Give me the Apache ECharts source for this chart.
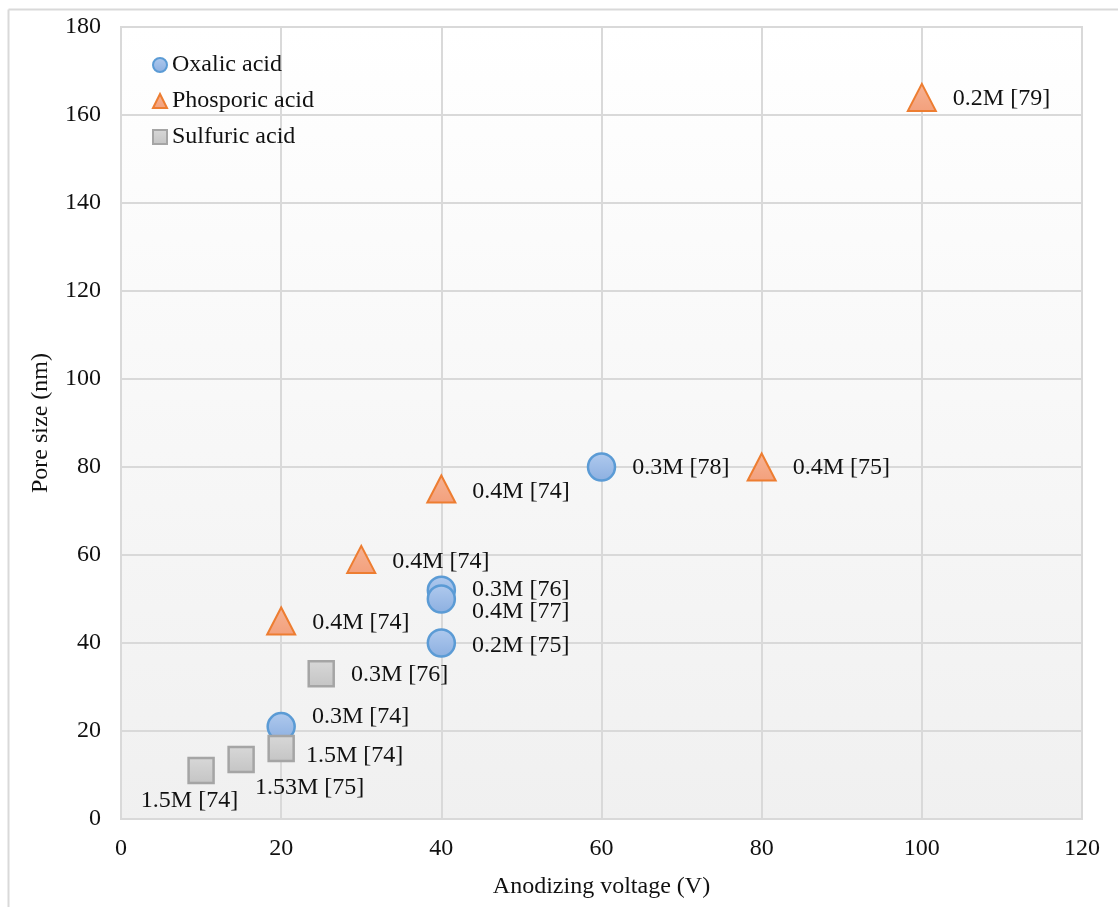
<!DOCTYPE html>
<html>
<head>
<meta charset="utf-8">
<script src="https://cdn.jsdelivr.net/npm/echarts@6/dist/echarts.min.js"></script>
<style>html,body{margin:0;padding:0;background:#fff}#c{width:1118px;height:907px}</style>
</head>
<body>
<div id="c"></div>
<script>
// ---- data ----
const oxalicV = [20, 40, 40, 40, 60];
const oxalicP = [21, 52, 50, 40, 80];
const oxalicL = ['0.3M [74]', '0.3M [76]', '0.4M [77]', '0.2M [75]', '0.3M [78]'];

const phosV = [20, 30, 40, 80, 100];
const phosP = [45, 59, 75, 80, 164];
const phosL = ['0.4M [74]', '0.4M [74]', '0.4M [74]', '0.4M [75]', '0.2M [79]'];

const sulfV = [10, 15, 20, 25];
const sulfP = [11, 13.5, 16, 33];
const sulfL = ['1.5M [74]', '1.53M [75]', '1.5M [74]', '0.3M [76]'];

const seriesNames = ['Oxalic acid', 'Phosporic acid', 'Sulfuric acid'];
const xTicks = [0, 20, 40, 60, 80, 100, 120];
const yTicks = [0, 20, 40, 60, 80, 100, 120, 140, 160, 180];

// ---- label placement (style, not data) ----
const oxalicOff = [[0, -10], [0, 0], [0, 13], [0, 3], [0, 1]];
const phosOff = [[0, 2], [0, 2], [0, 3], [0, 1], [0, 1]];
const sulfOff = [[-90, 30], [-16, 28], [-5, 7], [0, 1]];

const FONT = '"Liberation Serif", "DejaVu Serif", serif';
const FS = 24;

function build(xs, ys, labels, offs) {
  return xs.map((x, i) => ({
    value: [x, ys[i]],
    label: { offset: offs[i] }
  }));
}

function grad(top, bottom) {
  return new echarts.graphic.LinearGradient(0, 0, 0, 1, [
    { offset: 0, color: top }, { offset: 1, color: bottom }
  ]);
}

const labelBase = (labels) => ({
  show: true,
  position: 'right',
  distance: 16,
  color: '#111111',
  fontFamily: FONT,
  fontSize: FS,
  formatter: p => labels[p.dataIndex]
});

const chart = echarts.init(document.getElementById('c'), null, { renderer: 'canvas' });
chart.setOption({
  animation: false,
  backgroundColor: '#ffffff',
  graphic: [
    { type: 'line', shape: { x1: 8.5, y1: 9.5, x2: 1118, y2: 9.5 }, style: { stroke: '#d9d9d9', lineWidth: 2 }, silent: true },
    { type: 'line', shape: { x1: 8.5, y1: 9.5, x2: 8.5, y2: 907 }, style: { stroke: '#d9d9d9', lineWidth: 2 }, silent: true }
  ],
  grid: {
    left: 121, right: 36, top: 27, bottom: 88,
    show: true,
    borderColor: '#d9d9d9',
    borderWidth: 2,
    backgroundColor: grad('#ffffff', '#f0f0f0')
  },
  legend: {
    orient: 'vertical',
    left: 147, top: 48,
    itemWidth: 14, itemHeight: 14,
    itemGap: 12,
    textStyle: { fontFamily: FONT, fontSize: FS, color: '#111111' },
    data: [
      { name: seriesNames[0], icon: 'circle' },
      { name: seriesNames[1], icon: 'triangle' },
      { name: seriesNames[2], icon: 'rect' }
    ]
  },
  xAxis: {
    type: 'value', min: 0, max: 120, interval: 20,
    name: 'Anodizing voltage (V)', nameLocation: 'middle', nameGap: 56,
    nameTextStyle: { fontFamily: FONT, fontSize: FS, color: '#111111' },
    axisLine: { show: false }, axisTick: { show: false },
    axisLabel: { fontFamily: FONT, fontSize: FS, color: '#111111', margin: 18,
      formatter: v => xTicks.includes(v) ? String(v) : '' },
    splitLine: { show: true, lineStyle: { color: '#d9d9d9', width: 2 } }
  },
  yAxis: {
    type: 'value', min: 0, max: 180, interval: 20,
    name: 'Pore size (nm)', nameLocation: 'middle', nameGap: 68, nameRotate: 90,
    nameTextStyle: { fontFamily: FONT, fontSize: FS, color: '#111111' },
    axisLine: { show: false }, axisTick: { show: false },
    axisLabel: { fontFamily: FONT, fontSize: FS, color: '#111111', margin: 20,
      formatter: v => yTicks.includes(v) ? String(v) : '' },
    splitLine: { show: true, lineStyle: { color: '#d9d9d9', width: 2 } }
  },
  series: [
    {
      name: seriesNames[0], type: 'scatter', symbol: 'circle', symbolSize: 27,
      itemStyle: { color: grad('#b0caee', '#8cafe0'), borderColor: '#5b9bd5', borderWidth: 2.5, opacity: 1 },
      label: labelBase(oxalicL),
      data: build(oxalicV, oxalicP, oxalicL, oxalicOff)
    },
    {
      name: seriesNames[1], type: 'scatter', symbol: 'triangle', symbolSize: [28, 27],
      itemStyle: { color: grad('#f6b394', '#f3a07c'), borderColor: '#ed7d31', borderWidth: 2, opacity: 1 },
      label: labelBase(phosL),
      data: build(phosV, phosP, phosL, phosOff)
    },
    {
      name: seriesNames[2], type: 'scatter', symbol: 'rect', symbolSize: 25,
      itemStyle: { color: grad('#d8d8d8', '#c4c4c4'), borderColor: '#a5a5a5', borderWidth: 2.5, opacity: 1 },
      label: labelBase(sulfL),
      data: build(sulfV, sulfP, sulfL, sulfOff)
    }
  ]
});
</script>
</body>
</html>
